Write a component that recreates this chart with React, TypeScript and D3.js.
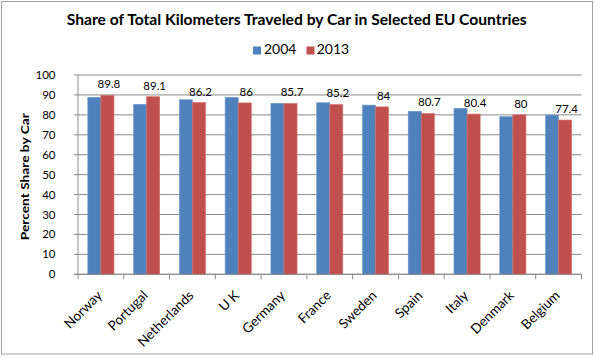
import React from "react";
import * as d3 from "d3";

const countries = ["Norway", "Portugal", "Netherlands", "U K", "Germany", "France", "Sweden", "Spain", "Italy", "Denmark", "Belgium"];
const values2004 = [88.8, 85.3, 87.6, 88.8, 85.8, 86.1, 84.9, 81.8, 83.3, 79.1, 79.9];
const values2013 = [89.8, 89.1, 86.2, 86, 85.7, 85.2, 84, 80.7, 80.4, 80, 77.4];
const seriesNames = ["2004", "2013"];
const yTicks = [0, 10, 20, 30, 40, 50, 60, 70, 80, 90, 100];

const W = 595, H = 358;
const FONT = "Lato, 'Open Sans', sans-serif";
const BLUE = "#4F81BD", RED = "#C0504D";

export default function App() {
  const left = 78, right = 581.5, top = 75, bottom = 274.3;
  const x = d3.scaleBand<string>().domain(countries).range([left, right]).paddingInner(0).paddingOuter(0);
  const y = d3.scaleLinear().domain([0, 100]).range([bottom, top]);
  const bw = x.bandwidth();
  const barW = bw / 3.5;
  const inner = d3.scaleBand<string>().domain(seriesNames).range([bw / 2 - barW, bw / 2 + barW]);
  const colors = [BLUE, RED];
  const series = [values2004, values2013];

  return (
    <svg width={W} height={H} style={{ position: "absolute", left: 0, top: 0, background: "#fff" }}>
      <rect x={1.5} y={1.5} width={591} height={352.5} fill="#fff" stroke="#a0a0a0" strokeWidth={1} />
      <text x={296.7} y={25} textAnchor="middle" fontFamily={FONT} fontWeight="bold" fontSize={15.5} fill="#000"
        textLength={460} lengthAdjust="spacingAndGlyphs">
        Share of Total Kilometers Traveled by Car in Selected EU Countries
      </text>
      {/* legend */}
      <g fontFamily={FONT} fontSize={14} fill="#000">
        <rect x={253} y={46.5} width={8} height={8} fill={BLUE} />
        <text x={264} y={54.3}>{seriesNames[0]}</text>
        <rect x={306.5} y={46.5} width={8} height={8} fill={RED} />
        <text x={316.7} y={54.3}>{seriesNames[1]}</text>
      </g>
      {/* gridlines */}
      {yTicks.map((t) => (
        <line key={t} x1={left - 4} x2={right} y1={y(t)} y2={y(t)} stroke="#8a8a8a" strokeWidth={1} />
      ))}
      {/* y axis */}
      <line x1={left} x2={left} y1={top} y2={bottom} stroke="#8a8a8a" />
      {yTicks.map((t) => (
        <text key={t} x={55.5} y={y(t) + 4} textAnchor="end" fontFamily={FONT} fontSize={11.5} fill="#000">
          {t}
        </text>
      ))}
      <text transform={`translate(28.5,${176.7}) rotate(-90)`} textAnchor="middle" fontFamily={FONT} fontWeight="bold" fontSize={11.5} fill="#000"
        textLength={127} lengthAdjust="spacingAndGlyphs">
        Percent Share by Car
      </text>
      {/* bars */}
      {countries.map((c, i) => (
        <g key={c} transform={`translate(${x(c)},0)`}>
          {series.map((s, j) => (
            <rect
              key={j}
              x={inner(seriesNames[j])!}
              y={y(s[i])}
              width={inner.bandwidth()}
              height={bottom - y(s[i])}
              fill={colors[j]}
              stroke={j === 0 ? "#6f9bd1" : "#d8706c"}
              strokeWidth={0.6}
            />
          ))}
          <text
            x={inner("2013")! + inner.bandwidth() / 2 + 1.5}
            y={y(values2013[i]) - 7}
            textAnchor="middle"
            fontFamily={FONT}
            fontSize={11.5}
            fill="#000"
          >
            {values2013[i]}
          </text>
        </g>
      ))}
      {/* x axis */}
      <line x1={left - 4} x2={right} y1={bottom} y2={bottom} stroke="#8a8a8a" />
      {d3.range(countries.length + 1).map((k) => {
        const xx = left + k * bw;
        return <line key={k} x1={xx} x2={xx} y1={bottom} y2={bottom + 5} stroke="#8a8a8a" />;
      })}
      {countries.map((c) => (
        <text
          key={c}
          transform={`translate(${x(c)! + bw / 2 + 2},${bottom + 22}) rotate(-45)`}
          textAnchor="end"
          fontFamily={FONT}
          fontSize={13.5}
          fill="#000"
        >
          {c}
        </text>
      ))}
    </svg>
  );
}
